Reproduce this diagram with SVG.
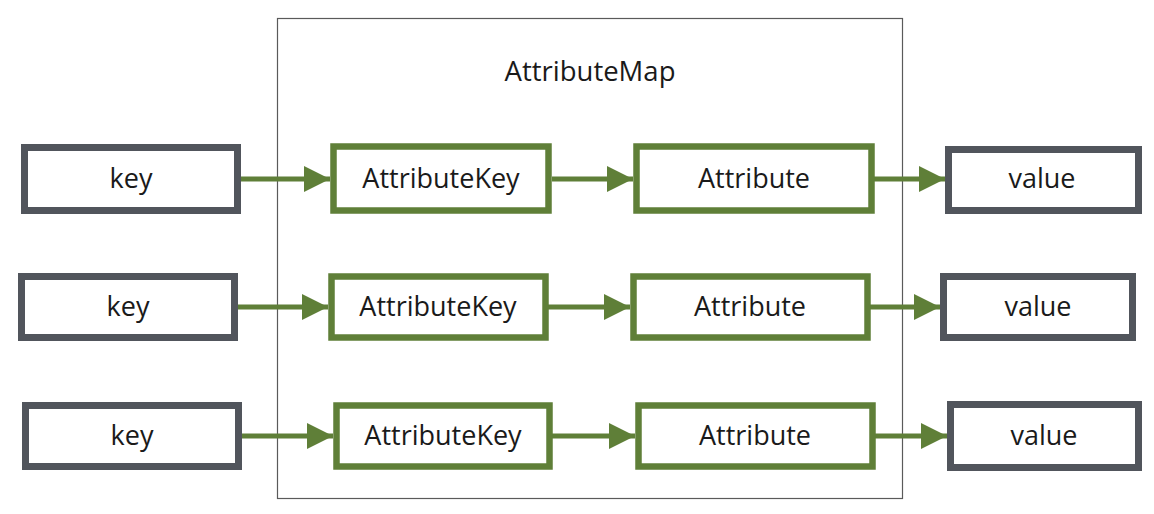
<svg xmlns="http://www.w3.org/2000/svg" width="1154" height="514" viewBox="0 0 1154 514">
<defs>
<style>
.gray{fill:#fff;stroke:#51555c;stroke-width:7;}
.green{fill:#fff;stroke:#5f7f38;stroke-width:6.5;}
.t{font-family:"Open Sans","Noto Sans",sans-serif;font-size:27px;fill:#1a1a1a;text-anchor:middle;dominant-baseline:central;}
.edge{stroke:#5f7f38;stroke-width:5;fill:none;marker-end:url(#ah);}
</style>
<marker id="ah" markerUnits="userSpaceOnUse" markerWidth="28" markerHeight="28" refX="26" refY="13" orient="auto">
<path d="M0,0 L26,13 L0,26 z" fill="#5f7f38"/>
</marker>
</defs>
<rect width="1154" height="514" fill="#fff"/>
<g id="container">
<rect x="277.5" y="18.5" width="625" height="480" fill="none" stroke="#5a5a5a" stroke-width="1.2"/>
<text class="t" x="590" y="70" style="font-size:27.5px">AttributeMap</text>
</g>
<g id="connectors">
<line class="edge" x1="241" y1="179" x2="330" y2="179"/>
<line class="edge" x1="552" y1="179" x2="633" y2="179"/>
<line class="edge" x1="874" y1="179" x2="945" y2="179"/>
<line class="edge" x1="237" y1="307" x2="328" y2="307"/>
<line class="edge" x1="548" y1="307" x2="630" y2="307"/>
<line class="edge" x1="870" y1="307" x2="940" y2="307"/>
<line class="edge" x1="242" y1="436" x2="333" y2="436"/>
<line class="edge" x1="552" y1="436" x2="635" y2="436"/>
<line class="edge" x1="875" y1="436" x2="947" y2="436"/>
</g>
<g id="key1"><rect class="gray" x="24.5" y="147.5" width="213" height="63"/><text class="t" x="131" y="177">key</text></g>
<g id="attrkey1"><rect class="green" x="333.5" y="146.5" width="215" height="64"/><text class="t" x="441" y="177">AttributeKey</text></g>
<g id="attr1"><rect class="green" x="636.5" y="146.5" width="235" height="64"/><text class="t" x="754" y="177">Attribute</text></g>
<g id="value1"><rect class="gray" x="948.5" y="149.5" width="190" height="61"/><text class="t" x="1042" y="177">value</text></g>
<g id="key2"><rect class="gray" x="21.5" y="276.5" width="213" height="61"/><text class="t" x="128" y="305">key</text></g>
<g id="attrkey2"><rect class="green" x="331.5" y="276.5" width="214" height="61"/><text class="t" x="438" y="305">AttributeKey</text></g>
<g id="attr2"><rect class="green" x="633.5" y="276.5" width="234" height="61"/><text class="t" x="750" y="305">Attribute</text></g>
<g id="value2"><rect class="gray" x="943.5" y="276.5" width="189" height="61"/><text class="t" x="1038" y="305">value</text></g>
<g id="key3"><rect class="gray" x="25.5" y="405.5" width="213" height="61"/><text class="t" x="132" y="434">key</text></g>
<g id="attrkey3"><rect class="green" x="336.5" y="405.5" width="213" height="61"/><text class="t" x="443" y="434">AttributeKey</text></g>
<g id="attr3"><rect class="green" x="638.5" y="405.5" width="234" height="61"/><text class="t" x="755" y="434">Attribute</text></g>
<g id="value3"><rect class="gray" x="950.5" y="404.5" width="188" height="63"/><text class="t" x="1044" y="434">value</text></g>
</svg>
